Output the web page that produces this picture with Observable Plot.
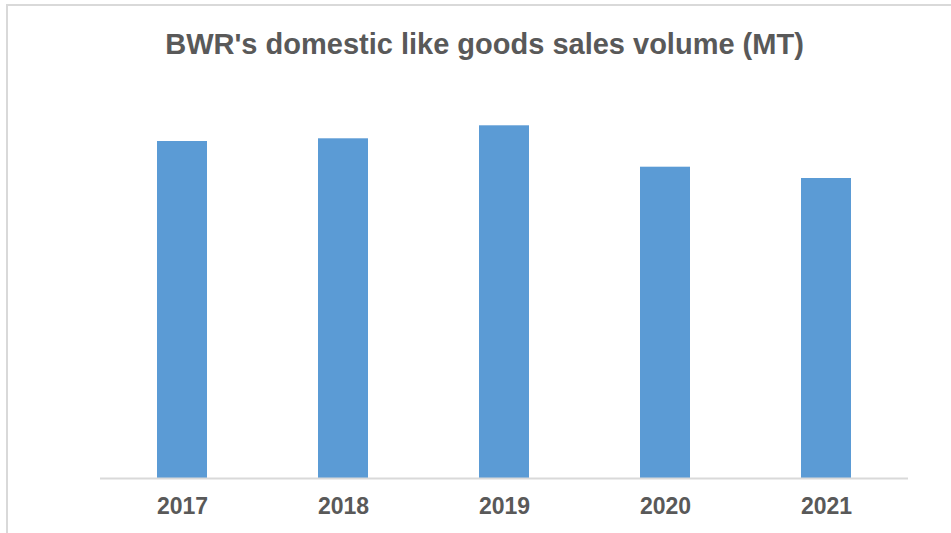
<!DOCTYPE html>
<html>
<head>
<meta charset="utf-8">
<script src="https://cdn.jsdelivr.net/npm/d3@7"></script>
<script src="https://cdn.jsdelivr.net/npm/@observablehq/plot@0.6"></script>
<style>
  html, body { margin: 0; padding: 0; background: #fff; overflow: hidden; width: 951px; height: 533px; }
  #frame { position: absolute; left: 6px; top: 4px; width: 980px; height: 580px; border: 2px solid #d9d9d9; box-sizing: border-box; }
  #title { position: absolute; left: 0; top: 27px; width: 969px; text-align: center; font-family: "Liberation Sans", Arial, sans-serif; font-weight: bold; font-size: 29px; line-height: 34px; color: #595959; white-space: nowrap; }
  #chart { position: absolute; left: 0; top: 0; }
</style>
</head>
<body>
<div id="frame"></div>
<div id="title">BWR's domestic like goods sales volume (MT)</div>
<div id="chart"></div>
<script>
const years = ["2017", "2018", "2019", "2020", "2021"];
const volumes = [33700, 33970, 35270, 31130, 30000];

const data = years.map((y, i) => ({year: y, volume: volumes[i]}));

const chart = Plot.plot({
  width: 951,
  height: 533,
  marginLeft: 100,
  marginRight: 43,
  marginTop: 78,
  marginBottom: 55,
  style: {fontFamily: "'Liberation Sans', Arial, sans-serif", background: "transparent"},
  x: {domain: years, paddingInner: 0.6906, paddingOuter: 0.3453, label: null},
  y: {domain: [0, 40000], axis: null},
  marks: [
    Plot.barY(data, {x: "year", y: "volume", fill: "#5b9bd5"}),
    Plot.ruleY([0], {stroke: "#d9d9d9", strokeWidth: 2}),
    Plot.axisX({tickSize: 0, tickPadding: 19, fontSize: 23, fontWeight: "bold", fill: "#595959", label: null})
  ]
});
document.getElementById("chart").appendChild(chart);
</script>
</body>
</html>
